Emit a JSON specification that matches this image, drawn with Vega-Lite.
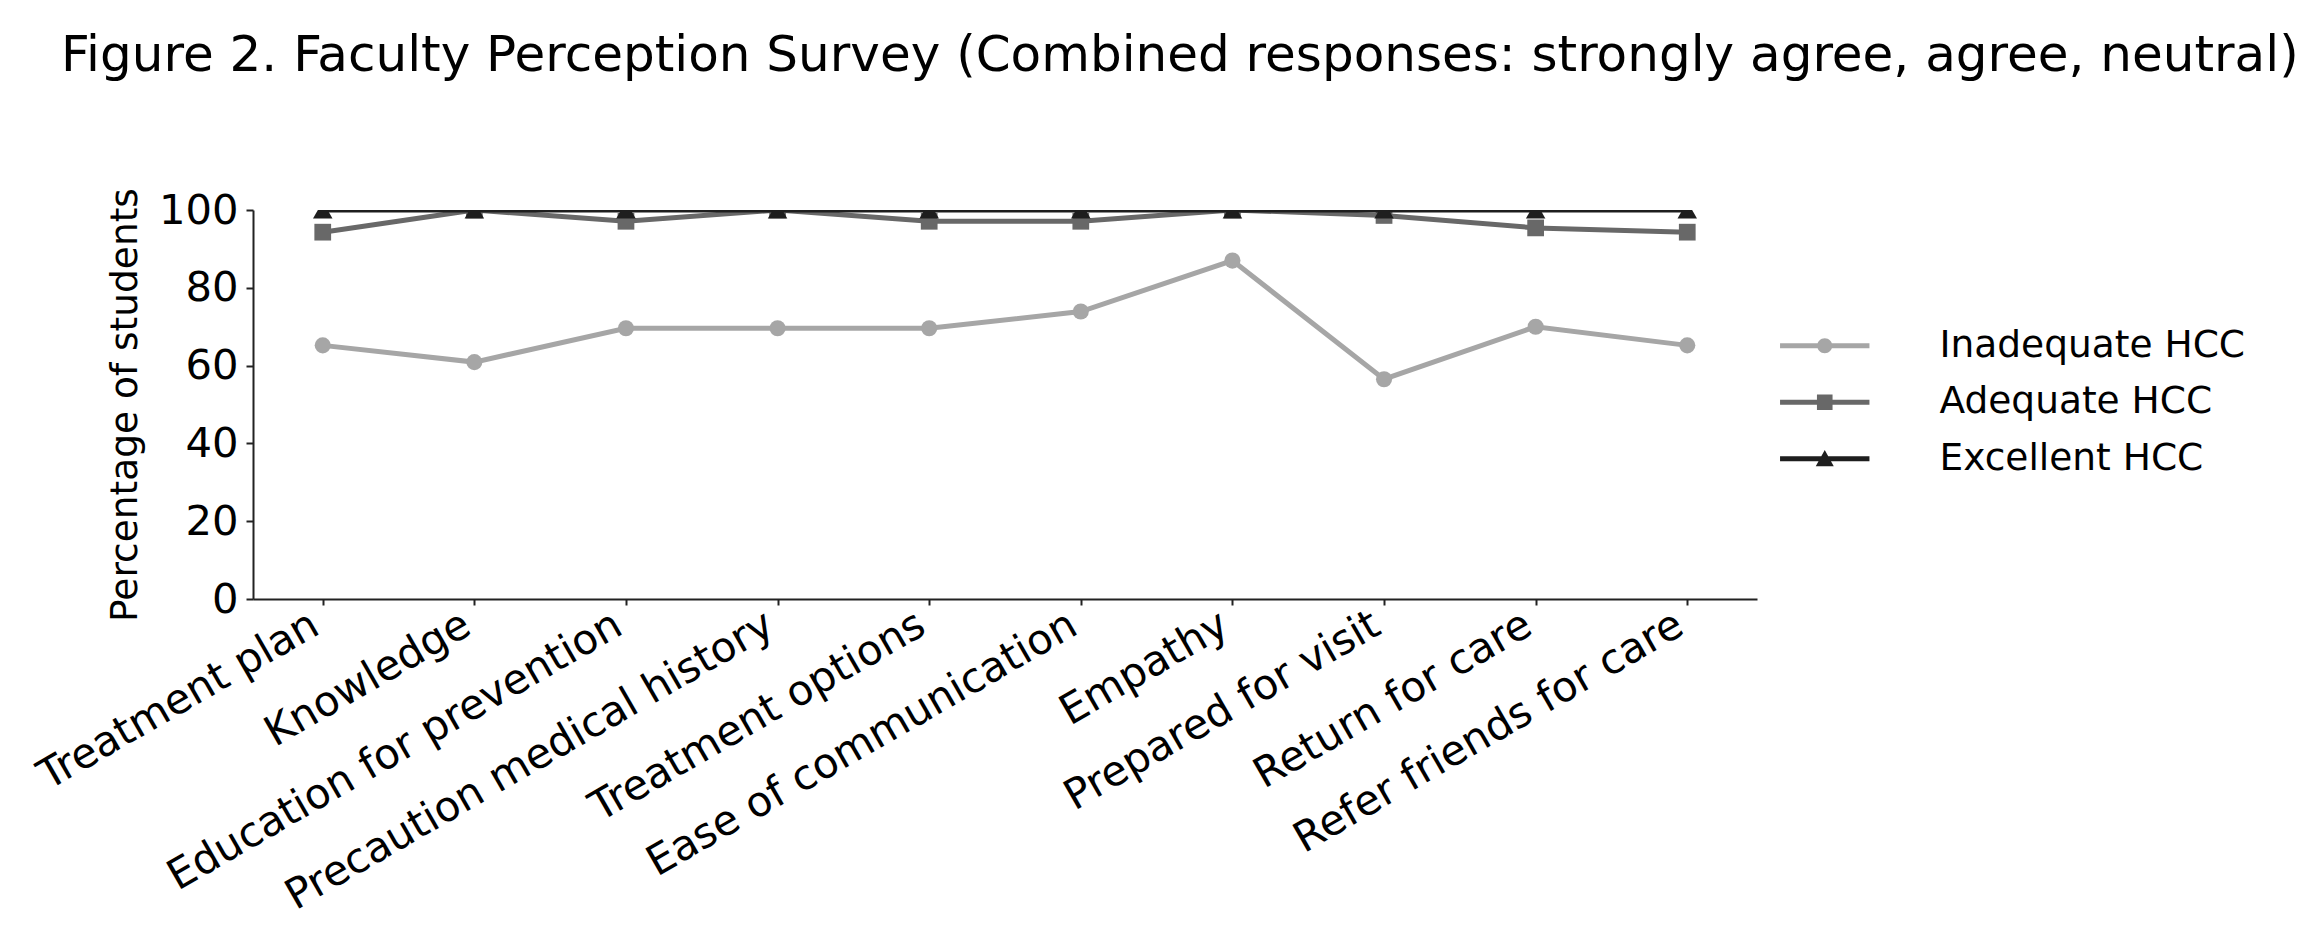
{
  "$schema": "https://vega.github.io/schema/vega-lite/v6.json",
  "width": 1504,
  "height": 389,
  "autosize": {"type": "none"},
  "padding": {"left": 253, "top": 210, "right": 544, "bottom": 337},
  "background": "white",
  "title": {
    "text": "Figure 2. Faculty Perception Survey (Combined responses: strongly agree, agree, neutral)",
    "anchor": "start",
    "frame": "group",
    "font": "DejaVu Sans",
    "fontSize": 50,
    "fontWeight": "normal",
    "color": "#000000",
    "dx": -192,
    "offset": 67,
    "baseline": "alphabetic"
  },
  "config": {
    "font": "DejaVu Sans",
    "view": {"stroke": null},
    "axis": {
      "grid": false,
      "domainColor": "#222222",
      "domainWidth": 2,
      "tickColor": "#222222",
      "tickWidth": 2,
      "tickSize": 7,
      "labelFont": "DejaVu Sans",
      "labelFontSize": 41.7,
      "labelColor": "#000000",
      "titleFont": "DejaVu Sans",
      "titleFontSize": 37.5,
      "titleFontWeight": "normal",
      "titleColor": "#000000",
      "labelLimit": 2000
    }
  },
  "data": {
    "values": [
      {"item": "Treatment plan", "series": "Inadequate HCC", "value": 65.2},
      {"item": "Knowledge", "series": "Inadequate HCC", "value": 60.9},
      {"item": "Education for prevention", "series": "Inadequate HCC", "value": 69.6},
      {"item": "Precaution medical history", "series": "Inadequate HCC", "value": 69.6},
      {"item": "Treatment options", "series": "Inadequate HCC", "value": 69.6},
      {"item": "Ease of communication", "series": "Inadequate HCC", "value": 73.9},
      {"item": "Empathy", "series": "Inadequate HCC", "value": 87.0},
      {"item": "Prepared for visit", "series": "Inadequate HCC", "value": 56.5},
      {"item": "Return for care", "series": "Inadequate HCC", "value": 70.0},
      {"item": "Refer friends for care", "series": "Inadequate HCC", "value": 65.2},
      {"item": "Treatment plan", "series": "Adequate HCC", "value": 94.3},
      {"item": "Knowledge", "series": "Adequate HCC", "value": 100},
      {"item": "Education for prevention", "series": "Adequate HCC", "value": 97.1},
      {"item": "Precaution medical history", "series": "Adequate HCC", "value": 100},
      {"item": "Treatment options", "series": "Adequate HCC", "value": 97.1},
      {"item": "Ease of communication", "series": "Adequate HCC", "value": 97.1},
      {"item": "Empathy", "series": "Adequate HCC", "value": 100},
      {"item": "Prepared for visit", "series": "Adequate HCC", "value": 98.6},
      {"item": "Return for care", "series": "Adequate HCC", "value": 95.4},
      {"item": "Refer friends for care", "series": "Adequate HCC", "value": 94.3},
      {"item": "Treatment plan", "series": "Excellent HCC", "value": 100},
      {"item": "Knowledge", "series": "Excellent HCC", "value": 100},
      {"item": "Education for prevention", "series": "Excellent HCC", "value": 100},
      {"item": "Precaution medical history", "series": "Excellent HCC", "value": 100},
      {"item": "Treatment options", "series": "Excellent HCC", "value": 100},
      {"item": "Ease of communication", "series": "Excellent HCC", "value": 100},
      {"item": "Empathy", "series": "Excellent HCC", "value": 100},
      {"item": "Prepared for visit", "series": "Excellent HCC", "value": 100},
      {"item": "Return for care", "series": "Excellent HCC", "value": 100},
      {"item": "Refer friends for care", "series": "Excellent HCC", "value": 100}
    ]
  },
  "encoding": {
    "x": {
      "field": "item",
      "type": "nominal",
      "sort": null,
      "scale": {"type": "point", "padding": 0.46},
      "axis": {
        "title": null,
        "labelAngle": -30,
        "labelAlign": "right",
        "labelBaseline": "middle",
        "labelPadding": 16,
        "labelOffset": -8,
        "tickSize": 6
      }
    },
    "y": {
      "field": "value",
      "type": "quantitative",
      "scale": {"domain": [0, 100], "nice": false, "zero": true},
      "axis": {
        "title": "Percentage of students",
        "values": [0, 20, 40, 60, 80, 100],
        "labelPadding": 8,
        "titlePadding": 14
      }
    },
    "color": {
      "field": "series",
      "type": "nominal",
      "scale": {
        "domain": ["Inadequate HCC", "Adequate HCC", "Excellent HCC"],
        "range": ["#a6a6a6", "#686868", "#1e1e1e"]
      },
      "legend": {
        "title": null,
        "orient": "none",
        "legendX": 1553,
        "legendY": 117,
        "padding": 0,
        "symbolSize": 900,
        "labelFontSize": 37.5,
        "labelFont": "DejaVu Sans",
        "labelColor": "#000000",
        "labelOffset": 96,
        "rowPadding": 17.5,
        "labelLimit": 1000,
        "encode": {
          "symbols": {
            "update": {
              "shape": {"signal": "datum.value === 'Inadequate HCC' ? 'M-2.98,-0.167H2.98V0.167H-2.98ZM-0.5,0A0.5,0.5,0,1,1,0.5,0A0.5,0.5,0,1,1,-0.5,0Z' : datum.value === 'Adequate HCC' ? 'M-2.98,-0.167H2.98V0.167H-2.98ZM-0.52,-0.52H0.52V0.52H-0.52Z' : 'M-2.98,-0.167H2.98V0.167H-2.98ZM-0.6,0.5L0,-0.58L0.6,0.5Z'"},
              "fill": {"signal": "scale('color', datum.value)"},
              "stroke": {"value": "transparent"},
              "strokeWidth": {"value": 0},
              "size": {"value": 900},
              "opacity": {"value": 1}
            }
          }
        }
      }
    }
  },
  "layer": [
    {
      "transform": [{"filter": "datum.series === 'Inadequate HCC'"}],
      "mark": {"type": "line", "strokeWidth": 5, "clip": true}
    },
    {
      "transform": [{"filter": "datum.series === 'Inadequate HCC'"}],
      "mark": {"type": "point", "shape": "circle", "filled": true, "opacity": 1, "size": 260, "clip": true}
    },
    {
      "transform": [{"filter": "datum.series === 'Adequate HCC'"}],
      "mark": {"type": "line", "strokeWidth": 5, "clip": true}
    },
    {
      "transform": [{"filter": "datum.series === 'Adequate HCC'"}],
      "mark": {"type": "point", "shape": "square", "filled": true, "opacity": 1, "size": 280, "clip": true}
    },
    {
      "transform": [{"filter": "datum.series === 'Excellent HCC'"}],
      "mark": {"type": "line", "strokeWidth": 5, "clip": true}
    },
    {
      "transform": [{"filter": "datum.series === 'Excellent HCC'"}],
      "mark": {"type": "point", "shape": "triangle-up", "filled": true, "opacity": 1, "size": 380, "clip": true}
    }
  ]
}
